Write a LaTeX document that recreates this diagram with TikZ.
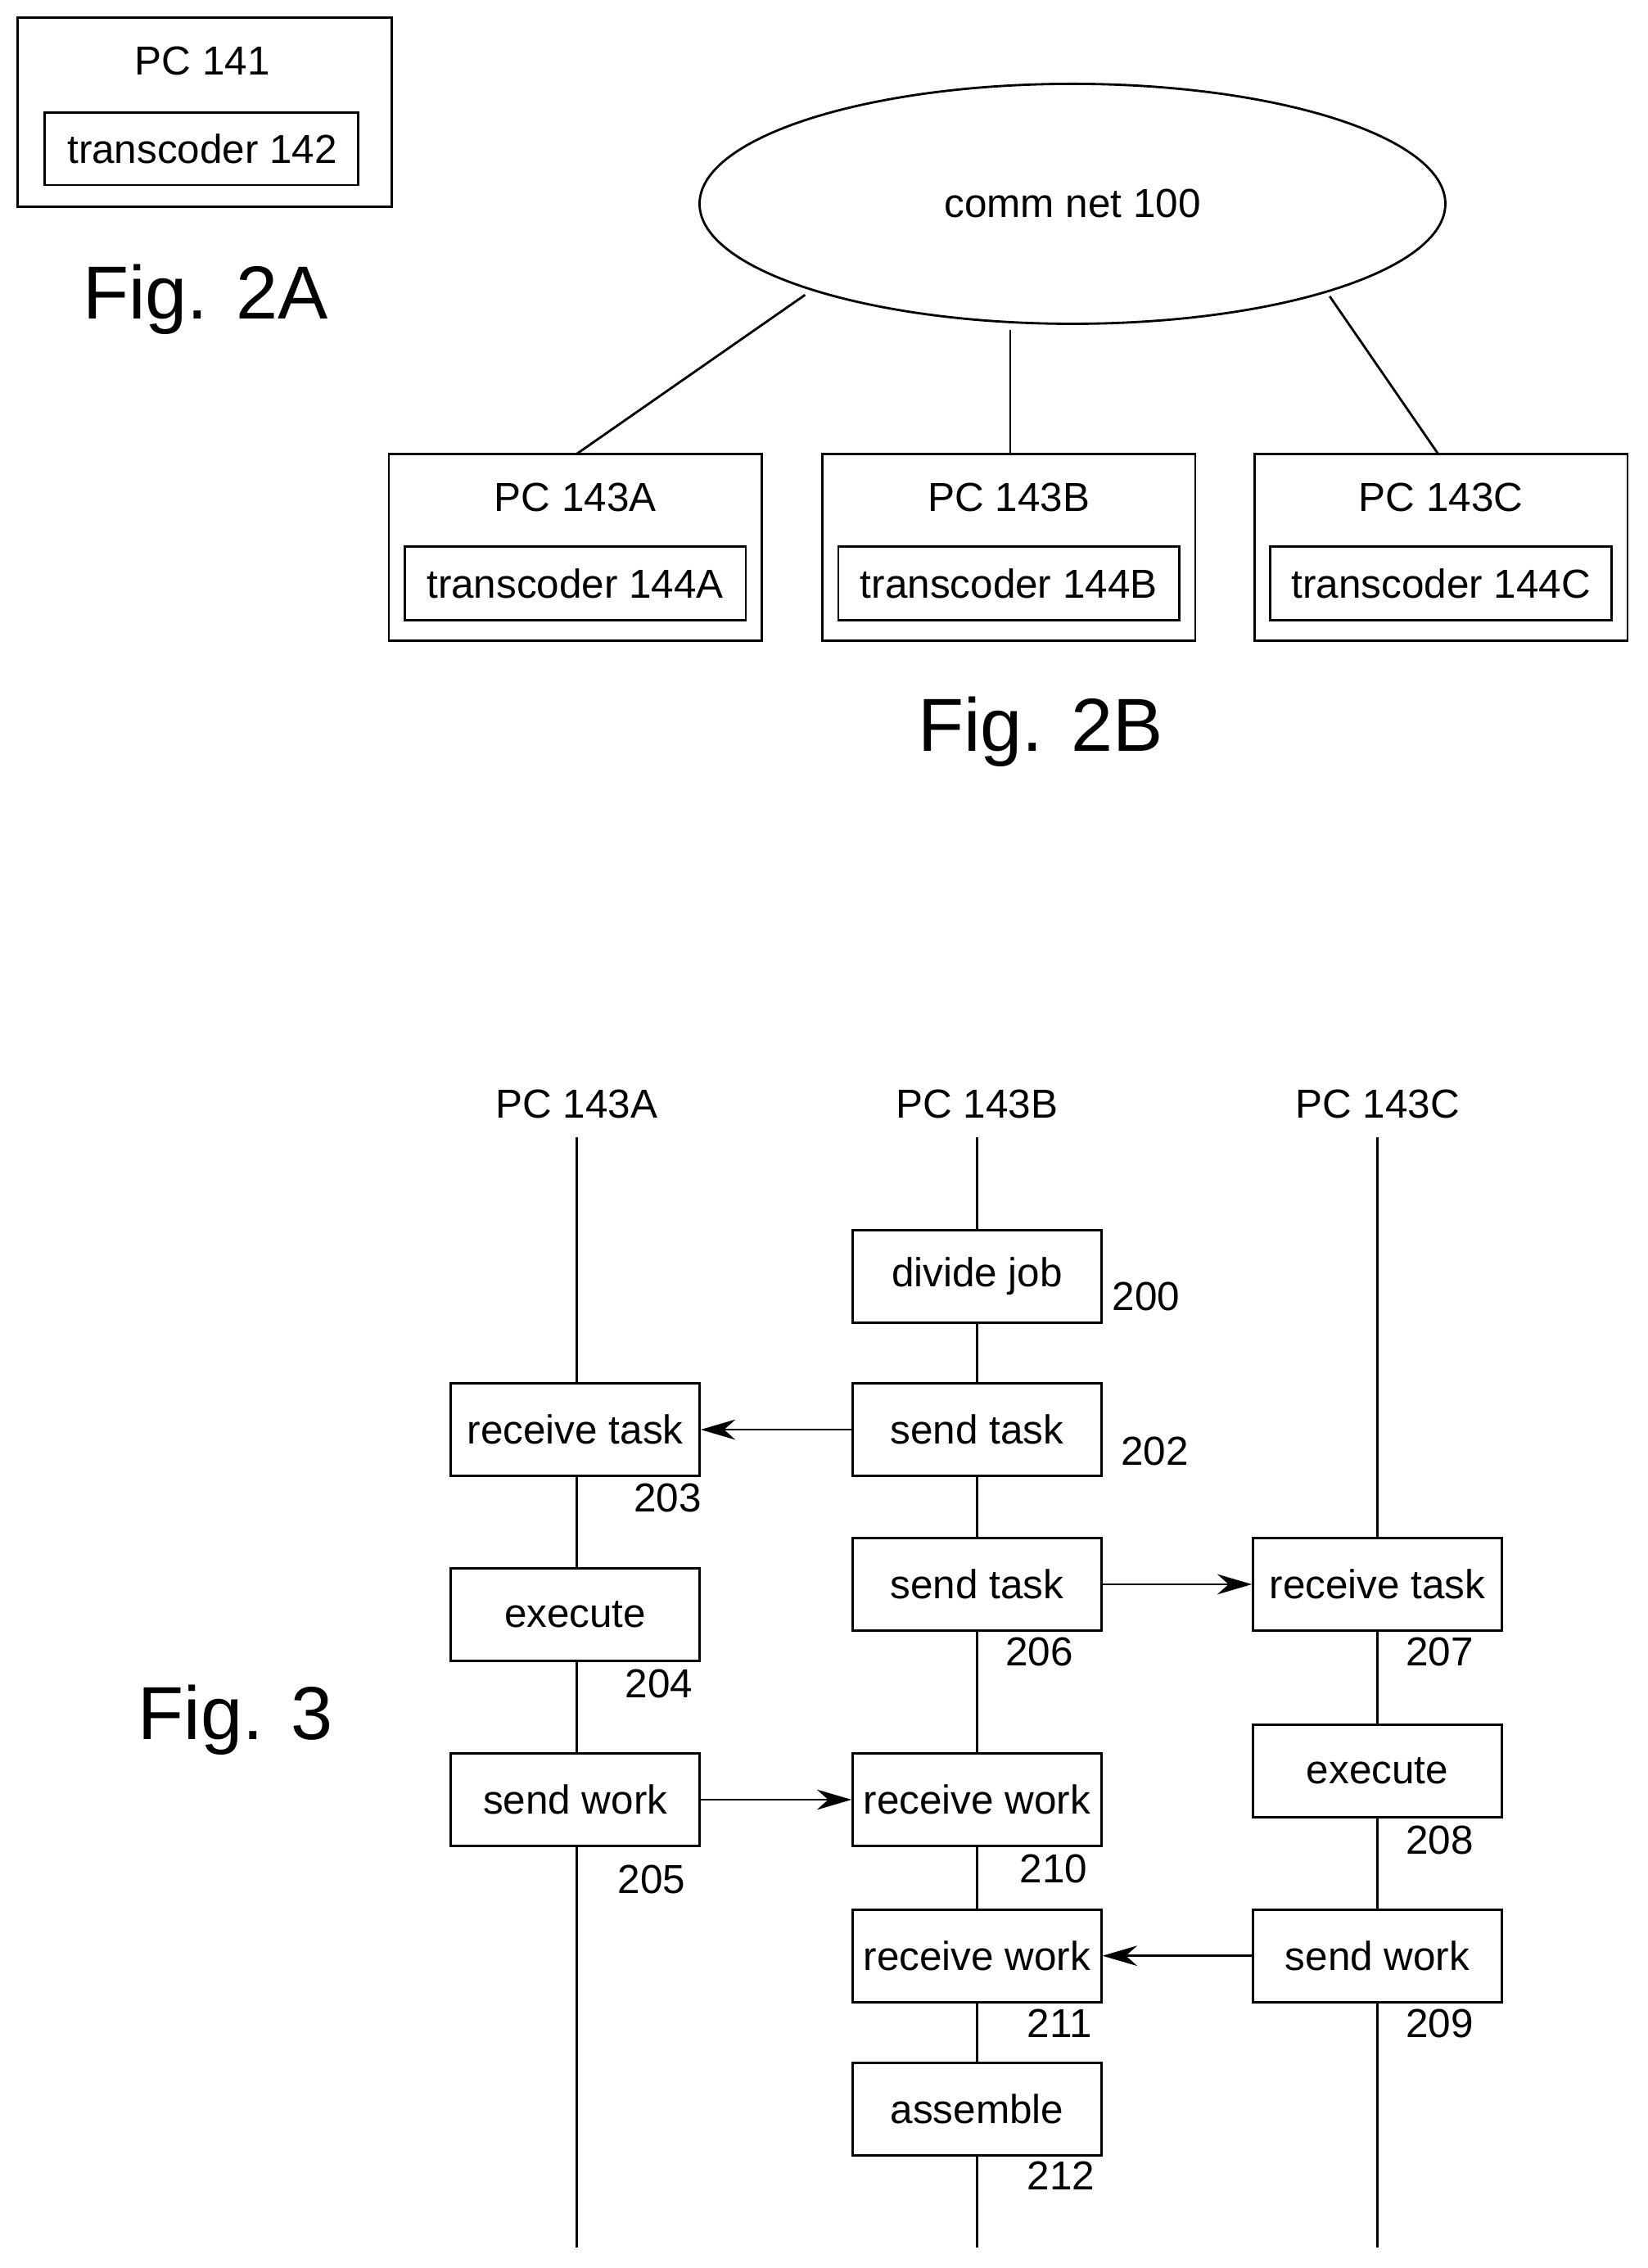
\documentclass[tikz,border=0pt]{standalone}
\usepackage{fontspec}
\setmainfont{Liberation Sans}
\usetikzlibrary{shapes.geometric,arrows.meta}
\begin{document}
\begin{tikzpicture}[x=1pt,y=-1pt,line width=1.6pt,
  txt/.style={font=\fontsize{28}{32}\selectfont,inner sep=0pt},
  fig/.style={font=\fontsize{52}{60}\selectfont,inner sep=0pt},
  box/.style={draw,fill=white,minimum width=172pt,minimum height=64pt,font=\fontsize{28}{32}\selectfont,inner sep=0pt},
  arr/.style={-{Stealth[length=24pt,width=14pt]}}]
\useasboundingbox (0,0) rectangle (1140,1569);
% Fig 2A
\draw (12,12) rectangle (271,143);
\node[txt] (pc141) at (140,42) {PC 141};
\draw (31,78) rectangle (248,128);
\node[txt] (t142) at (140,103) {transcoder 142};
\node[fig] (f2a) at (142,207) {Fig. 2A};
% Fig 2B
\node[draw,ellipse,minimum width=516pt,minimum height=166pt,inner sep=0pt,txt] (net) at (742,141) {comm net 100};
\foreach \n/\x in {A/269,B/569,C/868}{
  \draw (\x,314) rectangle ++(258,129);
  \node[txt] (pc\n) at (\x+129,344) {PC 143\n};
  \draw (\x+11,378) rectangle ++(236,51);
  \node[txt] (tc\n) at (\x+129,404) {transcoder 144\n};
}
\coordinate (pA) at (399,314); \coordinate (pB) at (699,314); \coordinate (pC) at (995,314);
\coordinate (nA) at (557,204); \coordinate (nB) at (699,228); \coordinate (nC) at (920,205);
\draw (nA) -- (pA);
\draw (nB) -- (pB);
\draw (nC) -- (pC);
\node[fig] (f2b) at (720,506) {Fig. 2B};
% Fig 3
\node[txt] (hA) at (399,764) {PC 143A};
\node[txt] (hB) at (676,764) {PC 143B};
\node[txt] (hC) at (953,764) {PC 143C};
\coordinate (eA) at (399,1555); \coordinate (eB) at (676,1555); \coordinate (eC) at (953,1555);
\draw (399,787) -- (eA); \draw (676,787) -- (eB); \draw (953,787) -- (eC);
\node[fig] (f3) at (163,1190) {Fig. 3};
\node[box] (b200) at (676,883) {divide job};
\node[box] (b202) at (676,989) {send task};
\node[box] (b203) at (398,989) {receive task};
\node[box] (b206) at (676,1096) {send task};
\node[box] (b207) at (953,1096) {receive task};
\node[box] (b204) at (398,1117) {execute};
\node[box] (b205) at (398,1245) {send work};
\node[box] (b210) at (676,1245) {receive work};
\node[box] (b208) at (953,1225) {execute};
\node[box] (b211) at (676,1353) {receive work};
\node[box] (b209) at (953,1353) {send work};
\node[box] (b212) at (676,1459) {assemble};
\foreach \t/\x/\y in {200/793/897,202/799/1004,203/462/1036,206/719/1143,207/996/1143,204/456/1165,205/451/1300,210/729/1293,208/996/1273,211/733/1400,209/996/1400,212/734/1505}
  \node[txt] (l\t) at (\x,\y) {\t};
\draw[arr] (b202) -- (b203);
\draw[arr] (b206) -- (b207);
\draw[arr] (b205) -- (b210);
\draw[arr] (b209) -- (b211);
\end{tikzpicture}
\end{document}
